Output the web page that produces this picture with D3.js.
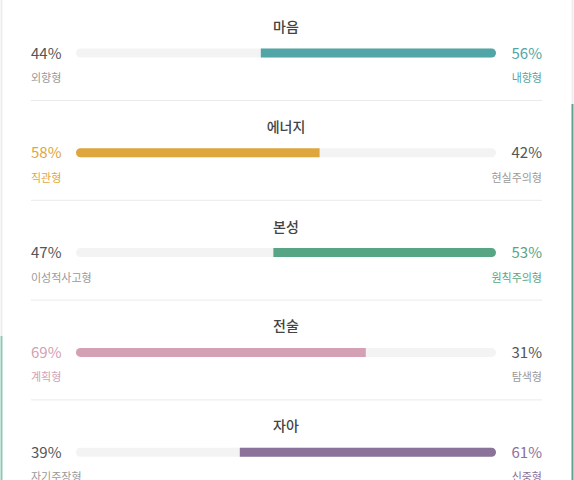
<!DOCTYPE html>
<html>
<head>
<meta charset="utf-8">
<script src="https://cdn.jsdelivr.net/npm/d3@7"></script>
<style>
  body { margin: 0; background: #fff; }
  svg text { font-family: "Noto Sans CJK KR", "Noto Sans", sans-serif; }
</style>
</head>
<body>
<svg id="chart"></svg>
<script>
// data
const titles = ["마음", "에너지", "본성", "전술", "자아"];
const leftNames = ["외향형", "직관형", "이성적사고형", "계획형", "자기주장형"];
const rightNames = ["내향형", "현실주의형", "원칙주의형", "탐색형", "신중형"];
const leftValues = [44, 58, 47, 69, 39];
const rightValues = [56, 42, 53, 31, 61];
const colors = ["#52a5a6", "#e0a63e", "#56a685", "#d3a0b4", "#8b729b"];

const width = 574, height = 480;
const barH = 9;

const svg = d3.select("#chart")
    .attr("width", width)
    .attr("height", height);

// card edges from the page
svg.append("line").attr("x1", 1.5).attr("x2", 1.5).attr("y1", 0).attr("y2", 336)
    .attr("stroke", "#eeeeee").attr("stroke-width", 2);
svg.append("line").attr("x1", 1.5).attr("x2", 1.5).attr("y1", 336).attr("y2", height)
    .attr("stroke", "#8cc9b4").attr("stroke-width", 2);
svg.append("line").attr("x1", 572.5).attr("x2", 572.5).attr("y1", 0).attr("y2", 104)
    .attr("stroke", "#eeeeee").attr("stroke-width", 2);
svg.append("line").attr("x1", 572.5).attr("x2", 572.5).attr("y1", 104).attr("y2", height)
    .attr("stroke", "#5fa090").attr("stroke-width", 2);

const x = d3.scaleLinear().domain([0, 100]).range([76, 496]);
const y = d3.scaleBand().domain(titles).range([0, 499]);

const rows = svg.selectAll(".row")
    .data(titles)
    .enter()
    .append("g")
    .attr("class", "row")
    .attr("transform", d => `translate(0, ${y(d)})`);

// title
rows.append("text")
    .attr("x", (x(0) + x(100)) / 2)
    .attr("y", 32)
    .attr("text-anchor", "middle")
    .attr("font-size", 14)
    .attr("font-weight", 500)
    .attr("fill", "#444")
    .text(d => d);

// track
const r = barH / 2;
rows.append("rect")
    .attr("x", x(0))
    .attr("y", 53 - r)
    .attr("width", x(100) - x(0))
    .attr("height", barH)
    .attr("rx", r)
    .attr("fill", "#f3f3f3");

// fill, rounded only at the outer end
rows.append("path")
    .attr("fill", (d, i) => colors[i])
    .attr("d", (d, i) => {
        const y0 = 53 - r, y1 = 53 + r;
        if (leftValues[i] >= rightValues[i]) {
            const x1 = x(leftValues[i]);
            return `M${x1},${y0}H${x(0) + r}A${r},${r} 0 0 0 ${x(0) + r},${y1}H${x1}Z`;
        }
        const x0 = x(leftValues[i]);
        return `M${x0},${y0}H${x(100) - r}A${r},${r} 0 0 1 ${x(100) - r},${y1}H${x0}Z`;
    });

// percent labels
rows.append("text")
    .attr("x", 31)
    .attr("y", 58.5)
    .attr("font-size", 15)
    .attr("fill", (d, i) => leftValues[i] > rightValues[i] ? colors[i] : "#555")
    .text((d, i) => leftValues[i] + "%");

rows.append("text")
    .attr("x", 542)
    .attr("y", 58.5)
    .attr("text-anchor", "end")
    .attr("font-size", 15)
    .attr("fill", (d, i) => rightValues[i] > leftValues[i] ? colors[i] : "#555")
    .text((d, i) => rightValues[i] + "%");

// type names
rows.append("text")
    .attr("x", 31)
    .attr("y", 82)
    .attr("font-size", 11)
    .attr("fill", (d, i) => leftValues[i] > rightValues[i] ? colors[i] : "#999")
    .text((d, i) => leftNames[i]);

rows.append("text")
    .attr("x", 542)
    .attr("y", 82)
    .attr("text-anchor", "end")
    .attr("font-size", 11)
    .attr("fill", (d, i) => rightValues[i] > leftValues[i] ? colors[i] : "#999")
    .text((d, i) => rightNames[i]);

// separators
rows.filter((d, i) => i < titles.length - 1)
    .append("line")
    .attr("x1", 31)
    .attr("x2", 542)
    .attr("y1", 100.5)
    .attr("y2", 100.5)
    .attr("stroke", "#eaeaea");
</script>
</body>
</html>
